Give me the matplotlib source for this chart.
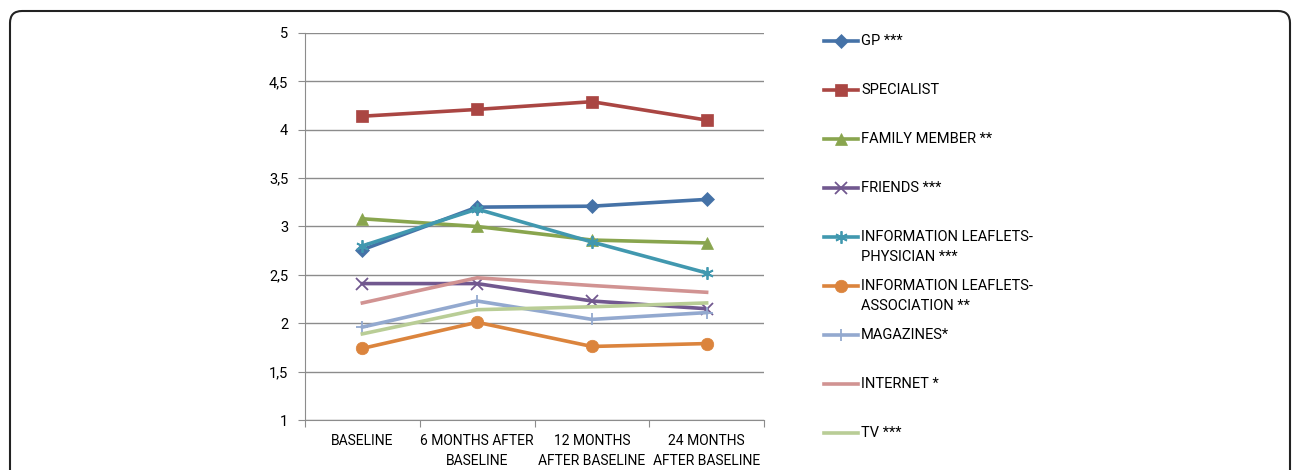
import numpy as np
import matplotlib
matplotlib.use("Agg")
import matplotlib.pyplot as plt
from matplotlib.lines import Line2D
from matplotlib.patches import FancyBboxPatch

plt.rcParams['font.family'] = ['Roboto', 'DejaVu Sans']

# survey waves and mean scores per information source
waves = ["BASELINE", "6 MONTHS AFTER\nBASELINE", "12 MONTHS\nAFTER BASELINE", "24 MONTHS\nAFTER BASELINE"]
gp = [2.76, 3.20, 3.21, 3.28]
specialist = [4.14, 4.21, 4.29, 4.10]
family = [3.08, 3.00, 2.86, 2.83]
friends = [2.41, 2.41, 2.23, 2.15]
leaflets_phys = [2.80, 3.18, 2.84, 2.52]
leaflets_assoc = [1.74, 2.01, 1.76, 1.79]
magazines = [1.96, 2.23, 2.04, 2.11]
internet = [2.21, 2.47, 2.39, 2.32]
tv = [1.89, 2.14, 2.17, 2.21]

labels = ["GP ***", "SPECIALIST", "FAMILY MEMBER **", "FRIENDS ***",
          "INFORMATION LEAFLETS-\nPHYSICIAN ***", "INFORMATION LEAFLETS-\nASSOCIATION **",
          "MAGAZINES*", "INTERNET *", "TV ***"]
series = [gp, specialist, family, friends, leaflets_phys, leaflets_assoc, magazines, internet, tv]
colors = ["#4572A7", "#AA4643", "#89A54E", "#71588F", "#4198AF", "#DB843D",
          "#93A9CF", "#D19392", "#B9CD96"]
markers = ["D", "s", "^", "x", (6, 2, 0), "o", "+", None, None]
msizes = [7, 8.5, 8, 8, 9, 9, 9, 0, 0]

yticks = [1, 1.5, 2, 2.5, 3, 3.5, 4, 4.5, 5]
ytick_labels = ["1", "1,5", "2", "2,5", "3", "3,5", "4", "4,5", "5"]

FS = 10.5
LW = 2.6
W, H = 1292, 470
fig = plt.figure(figsize=(W / 100, H / 100), dpi=100)

# rounded outer frame, running off the bottom edge
frame = FancyBboxPatch((0.10, -0.5), 12.80, 4.59 + 0.5,
                       boxstyle="round,pad=0,rounding_size=0.12",
                       transform=fig.dpi_scale_trans, fill=False,
                       edgecolor="#222222", linewidth=1.5, zorder=0)
fig.add_artist(frame)


def edge_width(m):
    return 1.3 if m in ("x", "+", (6, 2, 0)) else 0.5


ax = fig.add_axes([305 / W, 1 - 420 / H, (764 - 305) / W, (420 - 33) / H])
x = np.arange(len(waves))
draw_order = [7, 8, 6, 5, 3, 2, 1, 0, 4]
for i in draw_order:
    ax.plot(x, series[i], color=colors[i], linewidth=LW,
            marker=markers[i], markersize=msizes[i],
            markeredgewidth=edge_width(markers[i]),
            markeredgecolor=colors[i], zorder=3 + i * 0.01)

ax.set_xlim(-0.5, len(waves) - 0.5)
ax.set_ylim(1, 5)
ax.set_yticks(yticks)
ax.set_yticklabels(ytick_labels, fontsize=FS)
ax.yaxis.grid(True, color="#8c8c8c", linewidth=1)
ax.set_axisbelow(True)

ax.set_xticks(np.arange(-0.5, len(waves), 1.0))
ax.set_xticklabels([])
ax.set_xticks(x, minor=True)
ax.set_xticklabels(waves, minor=True, fontsize=10, linespacing=1.6)
ax.tick_params(axis="x", which="minor", length=0, pad=10)
ax.tick_params(axis="x", which="major", length=5, color="#8c8c8c", direction="out")
ax.tick_params(axis="y", length=5, color="#8c8c8c", direction="out", pad=7)
for s in ("top", "right"):
    ax.spines[s].set_visible(False)
for s in ("left", "bottom"):
    ax.spines[s].set_color("#8c8c8c")

# legend column to the right of the plot, one slot every 49 px
for i, lab in enumerate(labels):
    yp = 41 + 49 * i
    yf = 1 - yp / H
    fig.add_artist(Line2D([824 / W, 858 / W], [yf, yf], transform=fig.transFigure,
                          color=colors[i], linewidth=LW))
    if markers[i] is not None:
        fig.add_artist(Line2D([841 / W], [yf], transform=fig.transFigure,
                              color=colors[i], marker=markers[i], markersize=msizes[i],
                              markeredgecolor=colors[i],
                              markeredgewidth=edge_width(markers[i])))
    for k, part in enumerate(lab.split("\n")):
        fig.text(861 / W, 1 - (yp + 20 * k) / H, part, fontsize=FS,
                 va="center", ha="left")

fig.savefig("out.png", dpi=100)
